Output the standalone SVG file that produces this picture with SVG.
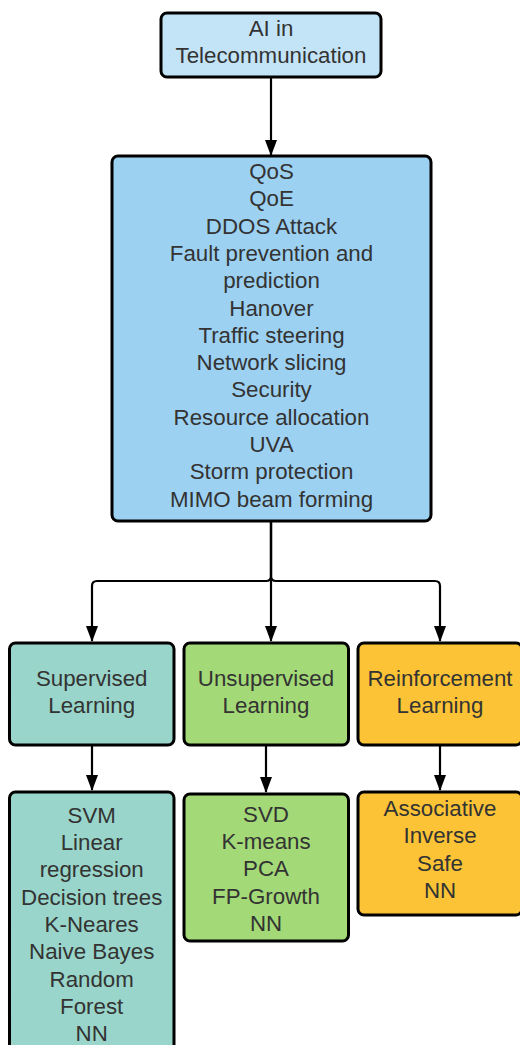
<svg xmlns="http://www.w3.org/2000/svg" width="520" height="1045" viewBox="0 0 520 1045">
  <style>
    .box { stroke: #000; stroke-width: 3; }
    .lbl { font-family: "Liberation Sans", Arial, sans-serif; font-size: 22.3px; fill: #333; text-anchor: middle; }
    .wire { fill: none; stroke: #000; stroke-width: 2.2; }
  </style>
  <defs>
    <marker id="head" markerUnits="userSpaceOnUse" markerWidth="16" markerHeight="12" refX="15" refY="6" orient="auto" viewBox="0 0 16 12">
      <path d="M0 0 L16 6 L0 12 Z" fill="#000"/>
    </marker>
  </defs>
  <rect width="520" height="1045" fill="#fff"/>

  <!-- connectors -->
  <g id="connectors">
    <path class="wire" d="M271 77 V155" marker-end="url(#head)"/>
    <path class="wire" d="M271 521 V576 Q271 581 266 581 H97 Q92 581 92 586 V641" marker-end="url(#head)"/>
    <path class="wire" d="M271 521 V641" marker-end="url(#head)"/>
    <path class="wire" d="M271 521 V576 Q271 581 276 581 H435 Q440 581 440 586 V641" marker-end="url(#head)"/>
    <path class="wire" d="M92 745 V790" marker-end="url(#head)"/>
    <path class="wire" d="M266 745 V792" marker-end="url(#head)"/>
    <path class="wire" d="M440 745 V790" marker-end="url(#head)"/>
  </g>

  <!-- root -->
  <g id="ai-telecom">
    <rect class="box" x="161" y="13" width="220" height="64" rx="6" fill="#c3e4f7"/>
    <text class="lbl" x="271" y="36">AI in</text>
    <text class="lbl" x="271" y="63">Telecommunication</text>
  </g>

  <!-- application areas -->
  <g id="applications">
    <rect class="box" x="112" y="156" width="319" height="365" rx="6" fill="#9dd1f2"/>
    <text class="lbl" x="271.5" y="179">QoS</text>
    <text class="lbl" x="271.5" y="206.3">QoE</text>
    <text class="lbl" x="271.5" y="233.6">DDOS Attack</text>
    <text class="lbl" x="271.5" y="260.9">Fault prevention and</text>
    <text class="lbl" x="271.5" y="288.2">prediction</text>
    <text class="lbl" x="271.5" y="315.5">Hanover</text>
    <text class="lbl" x="271.5" y="342.8">Traffic steering</text>
    <text class="lbl" x="271.5" y="370.1">Network slicing</text>
    <text class="lbl" x="271.5" y="397.4">Security</text>
    <text class="lbl" x="271.5" y="424.7">Resource allocation</text>
    <text class="lbl" x="271.5" y="452">UVA</text>
    <text class="lbl" x="271.5" y="479.3">Storm protection</text>
    <text class="lbl" x="271.5" y="506.6">MIMO beam forming</text>
  </g>

  <!-- learning categories -->
  <g id="supervised">
    <rect class="box" x="9.5" y="643" width="164.5" height="102" rx="6" fill="#99d5ca"/>
    <text class="lbl" x="91.7" y="686">Supervised</text>
    <text class="lbl" x="91.7" y="713">Learning</text>
  </g>
  <g id="unsupervised">
    <rect class="box" x="184" y="643" width="164.5" height="102" rx="6" fill="#a3d977"/>
    <text class="lbl" x="266" y="686">Unsupervised</text>
    <text class="lbl" x="266" y="713">Learning</text>
  </g>
  <g id="reinforcement">
    <rect class="box" x="358" y="643" width="164" height="102" rx="6" fill="#fbc335"/>
    <text class="lbl" x="440" y="686">Reinforcement</text>
    <text class="lbl" x="440" y="713">Learning</text>
  </g>

  <!-- algorithms -->
  <g id="supervised-methods">
    <rect class="box" x="9.5" y="792" width="164.5" height="270" rx="6" fill="#99d5ca"/>
    <text class="lbl" x="91.7" y="822.7">SVM</text>
    <text class="lbl" x="91.7" y="850">Linear</text>
    <text class="lbl" x="91.7" y="877.3">regression</text>
    <text class="lbl" x="91.7" y="904.6">Decision trees</text>
    <text class="lbl" x="91.7" y="931.9">K-Neares</text>
    <text class="lbl" x="91.7" y="959.2">Naive Bayes</text>
    <text class="lbl" x="91.7" y="986.5">Random</text>
    <text class="lbl" x="91.7" y="1013.8">Forest</text>
    <text class="lbl" x="91.7" y="1041.1">NN</text>
  </g>
  <g id="unsupervised-methods">
    <rect class="box" x="184" y="794" width="164.5" height="147" rx="6" fill="#a3d977"/>
    <text class="lbl" x="266" y="821.7">SVD</text>
    <text class="lbl" x="266" y="849">K-means</text>
    <text class="lbl" x="266" y="876.3">PCA</text>
    <text class="lbl" x="266" y="903.6">FP-Growth</text>
    <text class="lbl" x="266" y="930.9">NN</text>
  </g>
  <g id="reinforcement-methods">
    <rect class="box" x="358" y="792" width="164" height="123" rx="6" fill="#fbc335"/>
    <text class="lbl" x="440" y="816">Associative</text>
    <text class="lbl" x="440" y="843.3">Inverse</text>
    <text class="lbl" x="440" y="870.6">Safe</text>
    <text class="lbl" x="440" y="897.9">NN</text>
  </g>
</svg>
